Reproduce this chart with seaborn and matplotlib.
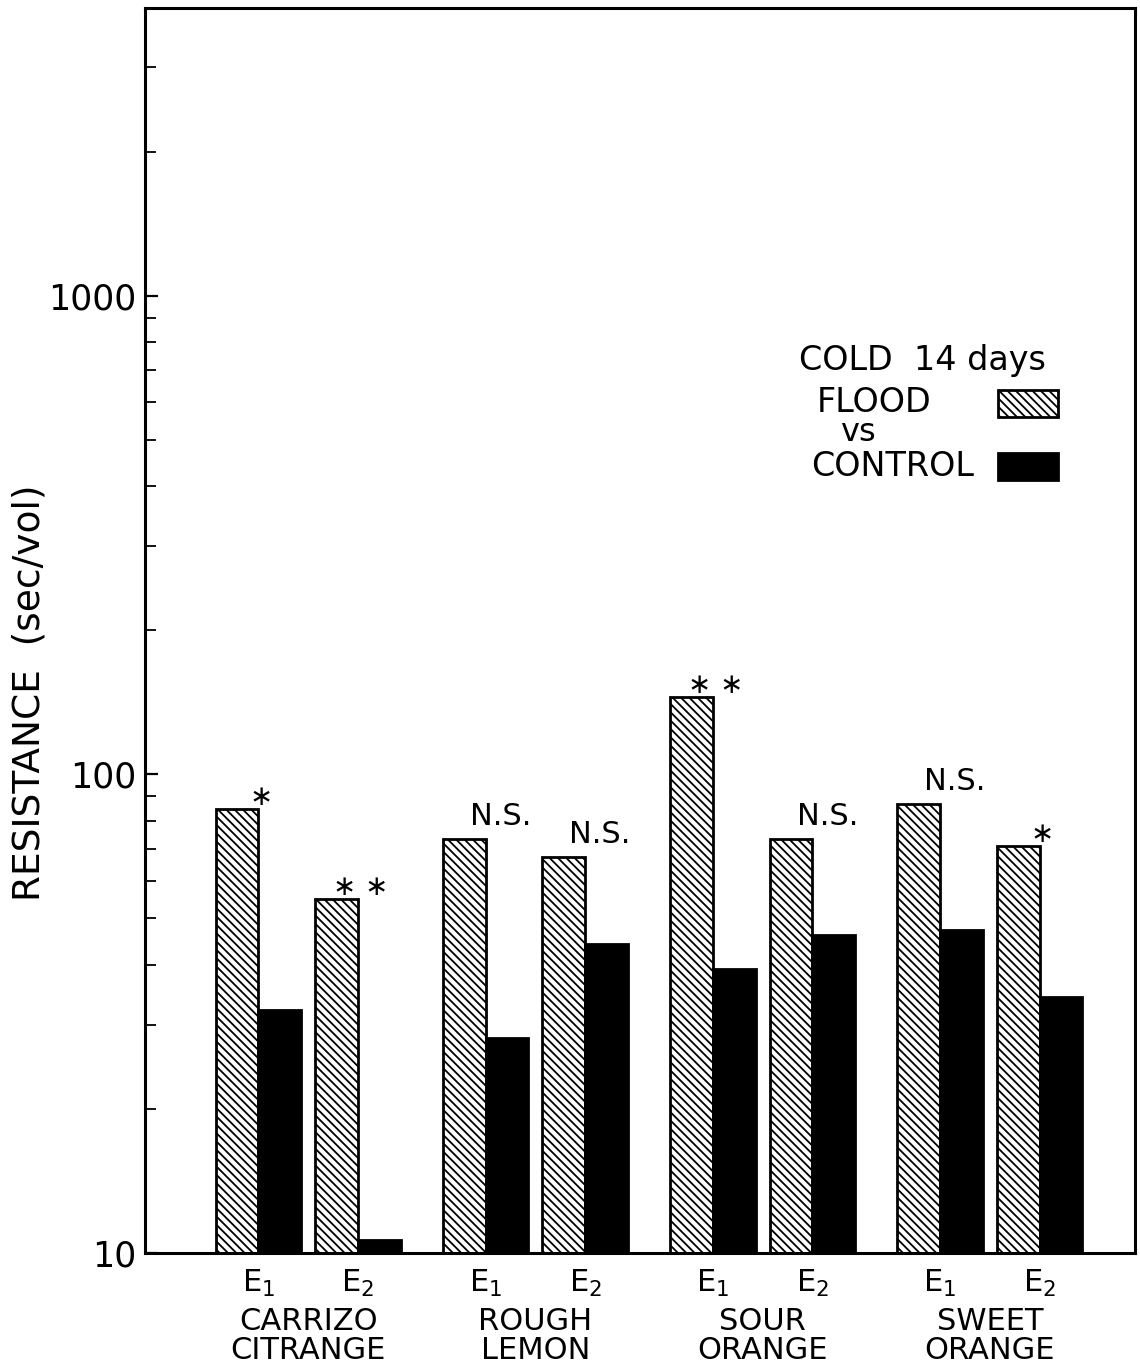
import numpy as np
import pandas as pd
import matplotlib
matplotlib.use("Agg")
import matplotlib.pyplot as plt
from matplotlib.ticker import FixedLocator, LogLocator, NullFormatter
import seaborn as sns

# ==========================================================
# DATA
# ==========================================================

cultivars = ["CARRIZO\nCITRANGE", "ROUGH\nLEMON", "SOUR\nORANGE", "SWEET\nORANGE"]
experiments = ["E$_1$", "E$_2$"]

# resistance (sec/vol), one value per cultivar x experiment: E1, E2, E1, E2 ...
flood = [84.8, 54.9, 73.4, 67.2, 145.0, 73.2, 86.9, 70.9]
control = [32.2, 10.65, 28.2, 44.2, 39.2, 46.2, 47.2, 34.3]

significance = ["\u2217", "\u2217 \u2217", "N.S.", "N.S.",
                "\u2217 \u2217", "N.S.", "N.S.", "\u2217"]

yticks = [10, 100, 1000]

# ==========================================================
# LAYOUT
# ==========================================================

PAIR_STEP = 1.0
GROUP_STEP = 2.285

positions = [g * GROUP_STEP + e * PAIR_STEP
             for g in range(len(cultivars)) for e in range(len(experiments))]
group_centers = [g * GROUP_STEP + PAIR_STEP / 2 for g in range(len(cultivars))]

df = pd.DataFrame({
    "pos": positions * 2,
    "treatment": ["FLOOD"] * len(flood) + ["CONTROL"] * len(control),
    "resistance": flood + control,
})

sns.set_style("white")
plt.rcParams["font.family"] = ["DejaVu Sans"]
plt.rcParams["hatch.linewidth"] = 1.3
for key in ["text.color", "axes.labelcolor", "xtick.color", "ytick.color"]:
    plt.rcParams[key] = "black"

fig = plt.figure(figsize=(11.4, 13.72), dpi=100)
ax = fig.add_axes([0.1272, 0.0867, 0.8684, 0.9074])

sns.barplot(
    data=df,
    x="pos",
    y="resistance",
    hue="treatment",
    hue_order=["FLOOD", "CONTROL"],
    palette={"FLOOD": "white", "CONTROL": "black"},
    native_scale=True,
    width=0.86,
    errorbar=None,
    edgecolor="black",
    linewidth=2,
    legend=False,
    ax=ax
)

for bar in ax.containers[0]:
    bar.set_hatch("\\\\\\\\")

ax.set_yscale("log")
ax.set_ylim(10, 3990)
ax.set_xlim(positions[0] - 1.14, positions[-1] + 0.96)

# y axis ticks (inward, left side only)
ax.yaxis.set_major_locator(FixedLocator(yticks))
ax.set_yticklabels([str(v) for v in yticks])
ax.yaxis.set_minor_locator(LogLocator(base=10, subs=np.arange(2, 10)))
ax.yaxis.set_minor_formatter(NullFormatter())
ax.tick_params(axis="y", which="major", direction="in", length=9.5,
               width=1.6, labelsize=25, pad=6, left=True, right=False)
ax.tick_params(axis="y", which="minor", direction="in", length=8,
               width=1.3, left=True, right=False)

# x axis: experiment labels + cultivar names
ax.set_xticks(positions)
ax.set_xticklabels(experiments * len(cultivars))
ax.set_xticks(group_centers, minor=True)
ax.set_xticklabels(cultivars, minor=True, linespacing=0.98)
ax.tick_params(axis="x", which="major", length=0, labelsize=22, pad=11)
ax.tick_params(axis="x", which="minor", length=0, labelsize=22, pad=39)

ax.set_xlabel("")
ax.set_ylabel("RESISTANCE  (sec/vol)", fontsize=27)
ax.yaxis.set_label_coords(-0.099, 0.45)

for side in ["left", "right", "top", "bottom"]:
    ax.spines[side].set_linewidth(2.2)
    ax.spines[side].set_color("black")

# significance marks above the flood bars
for x, v, s in zip(positions, flood, significance):
    if s == "N.S.":
        ax.annotate(s, (x + 0.15, v), xytext=(0, 10), textcoords="offset points",
                    ha="center", va="baseline", fontsize=22)
    else:
        ax.annotate(s, (x + 0.03, v), xytext=(0, 3), textcoords="offset points",
                    ha="center", va="baseline", fontsize=20)

# legend: swatches from the legend, lettering placed like the original
leg = ax.legend(
    handles=[ax.containers[0][0], ax.containers[1][0]],
    labels=["FLOOD", "CONTROL"],
    loc="upper right",
    bbox_to_anchor=(0.922, 0.694),
    frameon=False,
    markerfirst=False,
    fontsize=24,
    handlelength=1.8,
    handleheight=0.85,
    handletextpad=0.4,
    labelspacing=0.9,
    borderpad=0,
    borderaxespad=0
)
for t in leg.get_texts():
    t.set_alpha(0)

ax.text(0.7854, 0.717, "COLD  14 days", transform=ax.transAxes,
        ha="center", va="center", fontsize=24)
ax.text(0.737, 0.683, "FLOOD", transform=ax.transAxes,
        ha="center", va="center", fontsize=24)
ax.text(0.720, 0.659, "vs", transform=ax.transAxes,
        ha="center", va="center", fontsize=23)
ax.text(0.755, 0.632, "CONTROL", transform=ax.transAxes,
        ha="center", va="center", fontsize=24)

fig.savefig("out.png", dpi=100)
